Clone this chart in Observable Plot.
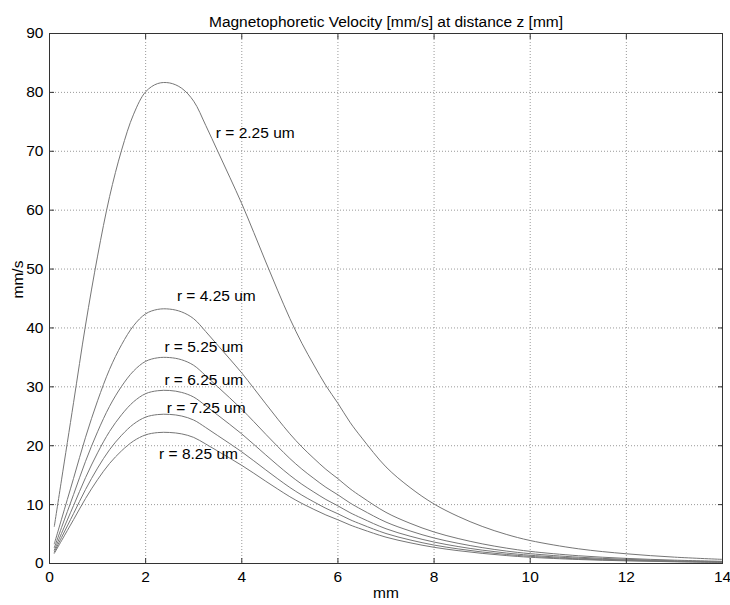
<!DOCTYPE html>
<html>
<head>
<meta charset="utf-8">
<script src="https://cdn.jsdelivr.net/npm/d3@7"></script>
<script src="https://cdn.jsdelivr.net/npm/@observablehq/plot@0.6"></script>
<style>
  html, body { margin: 0; padding: 0; background: #fff; }
  #chart { width: 730px; height: 605px; }
</style>
</head>
<body>
<div id="chart"></div>
<script>
const titleText = "Magnetophoretic Velocity [mm/s] at distance z [mm]";
const xLabel = "mm";
const yLabel = "mm/s";

const zMm = [0.1, 0.25, 0.5, 0.75, 1, 1.25, 1.5, 1.75, 2, 2.25, 2.5, 2.75, 3, 3.25, 3.5, 3.75, 4, 4.25, 4.5, 4.75, 5, 5.25, 5.5, 5.75, 6, 6.25, 6.5, 7, 7.5, 8, 8.5, 9, 9.5, 10, 11, 12, 13, 14];

const v225 = [6.3, 14.2, 27.3, 40.5, 52.2, 62.3, 70.2, 76.3, 80.1, 81.5, 81.6, 80.7, 78.5, 74.4, 70.0, 65.6, 61.1, 56.2, 51.2, 46.3, 41.6, 37.4, 33.7, 30.2, 27.2, 24.0, 21.3, 16.4, 12.9, 10.1, 8.0, 6.3, 4.95, 3.9, 2.5, 1.65, 1.08, 0.7];
const v425 = [3.34, 7.52, 14.45, 21.44, 27.63, 32.98, 37.16, 40.39, 42.40, 43.15, 43.20, 42.72, 41.56, 39.39, 37.06, 34.73, 32.35, 29.75, 27.11, 24.51, 22.02, 19.80, 17.84, 15.99, 14.40, 12.71, 11.28, 8.68, 6.83, 5.35, 4.24, 3.34, 2.62, 2.06, 1.32, 0.87, 0.57, 0.37];
const v525 = [2.70, 6.09, 11.70, 17.36, 22.37, 26.70, 30.09, 32.70, 34.33, 34.93, 34.97, 34.59, 33.65, 31.89, 30.00, 28.12, 26.19, 24.09, 21.94, 19.84, 17.83, 16.03, 14.44, 12.94, 11.66, 10.29, 9.13, 7.03, 5.53, 4.33, 3.43, 2.70, 2.12, 1.67, 1.07, 0.71, 0.46, 0.30];
const v625 = [2.27, 5.11, 9.83, 14.58, 18.79, 22.43, 25.27, 27.47, 28.84, 29.34, 29.38, 29.05, 28.26, 26.78, 25.20, 23.62, 22.00, 20.23, 18.43, 16.67, 14.98, 13.46, 12.13, 10.87, 9.79, 8.64, 7.67, 5.90, 4.64, 3.64, 2.88, 2.27, 1.78, 1.40, 0.90, 0.59, 0.39, 0.25];
const v725 = [1.95, 4.41, 8.47, 12.57, 16.20, 19.33, 21.78, 23.68, 24.86, 25.29, 25.32, 25.04, 24.36, 23.09, 21.72, 20.36, 18.96, 17.44, 15.89, 14.37, 12.91, 11.61, 10.46, 9.37, 8.44, 7.45, 6.61, 5.09, 4.00, 3.13, 2.48, 1.95, 1.54, 1.21, 0.78, 0.51, 0.34, 0.22];
const v825 = [1.72, 3.87, 7.44, 11.04, 14.24, 16.99, 19.14, 20.81, 21.84, 22.23, 22.25, 22.01, 21.41, 20.29, 19.09, 17.89, 16.66, 15.33, 13.96, 12.63, 11.34, 10.20, 9.19, 8.24, 7.42, 6.55, 5.81, 4.47, 3.52, 2.75, 2.18, 1.72, 1.35, 1.06, 0.68, 0.45, 0.29, 0.19];

const seriesNames = ["r = 2.25 um", "r = 4.25 um", "r = 5.25 um", "r = 6.25 um", "r = 7.25 um", "r = 8.25 um"];
const seriesValues = [v225, v425, v525, v625, v725, v825];
// annotation anchor points (data coordinates, text starts here)
const labelZ = [3.46, 2.65, 2.39, 2.39, 2.44, 2.28];
const labelV = [73.1, 45.5, 36.7, 31.1, 26.4, 18.6];

const xTicks = [0, 2, 4, 6, 8, 10, 12, 14];
const yTicks = [0, 10, 20, 30, 40, 50, 60, 70, 80, 90];

const rows = [];
seriesNames.forEach((name, i) => {
  zMm.forEach((z, j) => rows.push({series: name, z, v: seriesValues[i][j]}));
});
const labels = seriesNames.map((name, i) => ({name, z: labelZ[i], v: labelV[i]}));

const FONT = "'Liberation Sans', Arial, Helvetica, sans-serif";
const FS = 15.5;
const blank = () => "";

const chart = Plot.plot({
  width: 730,
  height: 605,
  marginLeft: 49,
  marginRight: 8,
  marginTop: 33,
  marginBottom: 42,
  style: {fontFamily: FONT, fontSize: FS + "px", color: "#000", background: "#fff"},
  x: {domain: [0, 14]},
  y: {domain: [0, 90]},
  marks: [
    Plot.gridX(xTicks, {stroke: "#999", strokeOpacity: 1, strokeDasharray: "1,2"}),
    Plot.gridY(yTicks, {stroke: "#999", strokeOpacity: 1, strokeDasharray: "1,2"}),
    Plot.line(rows, {x: "z", y: "v", z: "series", stroke: "#767676", strokeWidth: 1, curve: "catmull-rom"}),
    Plot.text(labels, {x: "z", y: "v", text: "name", textAnchor: "start", fontSize: FS, fill: "#000"}),
    Plot.frame({stroke: "#333", strokeWidth: 1}),
    Plot.axisX(xTicks, {anchor: "bottom", tickSize: -5, tickFormat: blank, label: null, stroke: "#333"}),
    Plot.axisX(xTicks, {anchor: "top", tickSize: -5, tickFormat: blank, label: null, stroke: "#333"}),
    Plot.axisY(yTicks, {anchor: "left", tickSize: -5, tickFormat: blank, label: null, stroke: "#333"}),
    Plot.axisY(yTicks, {anchor: "right", tickSize: -5, tickFormat: blank, label: null, stroke: "#333"}),
    Plot.axisX(xTicks, {anchor: "bottom", tickSize: 0, tickPadding: 7, label: null, fontSize: FS, color: "#000"}),
    Plot.axisY(yTicks, {anchor: "left", tickSize: 0, tickPadding: 6, label: null, fontSize: FS, color: "#000"}),
    Plot.text([titleText], {frameAnchor: "top", dy: -18, fontSize: FS, fill: "#000"}),
    Plot.text([xLabel], {frameAnchor: "bottom", dy: 34, fontSize: FS, fill: "#000"}),
    Plot.text([yLabel], {frameAnchor: "left", dx: -31, rotate: -90, fontSize: FS, fill: "#000"})
  ]
});
document.getElementById("chart").appendChild(chart);
</script>
</body>
</html>
